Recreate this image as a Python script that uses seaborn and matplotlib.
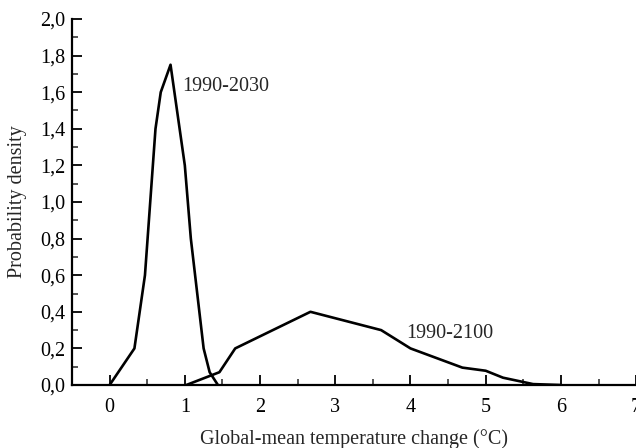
import matplotlib
matplotlib.use("Agg")
import matplotlib.pyplot as plt
import seaborn as sns
import pandas as pd
from matplotlib.ticker import MultipleLocator, FixedLocator

# ---- data ----
x_2030 = [0.0, 0.33, 0.47, 0.61, 0.68, 0.81, 1.0, 1.08, 1.25, 1.33, 1.44]
y_2030 = [0.0, 0.20, 0.60, 1.40, 1.60, 1.75, 1.20, 0.80, 0.20, 0.07, 0.0]

x_2100 = [1.02, 1.46, 1.67, 2.67, 3.61, 4.0, 4.69, 5.0, 5.23, 5.63, 6.0]
y_2100 = [0.0, 0.07, 0.20, 0.40, 0.30, 0.20, 0.095, 0.078, 0.04, 0.005, 0.0]

series_names = ["1990-2030", "1990-2100"]
x_ticks = [0, 1, 2, 3, 4, 5, 6, 7]
x_ticklabels = ["0", "1", "2", "3", "4", "5", "6", "7"]
y_ticks = [0.0, 0.2, 0.4, 0.6, 0.8, 1.0, 1.2, 1.4, 1.6, 1.8, 2.0]
y_ticklabels = ["0,0", "0,2", "0,4", "0,6", "0,8", "1,0", "1,2", "1,4", "1,6", "1,8", "2,0"]

df = pd.concat([
    pd.DataFrame({"x": x_2030, "y": y_2030, "period": series_names[0]}),
    pd.DataFrame({"x": x_2100, "y": y_2100, "period": series_names[1]}),
])

sns.set_style("ticks")
plt.rcParams["font.family"] = ["Liberation Serif", "DejaVu Serif"]

fig = plt.figure(figsize=(6.36, 4.48), dpi=100)
ax = fig.add_axes([0.1132, 0.1406, 0.887, 0.817])

sns.lineplot(data=df, x="x", y="y", hue="period", units="period", estimator=None,
             sort=False, palette={series_names[0]: "black", series_names[1]: "black"},
             linewidth=1.9, legend=False, ax=ax)

ax.set_xlim(-0.5, 7.0)
ax.set_ylim(0.0, 2.0)

ax.xaxis.set_major_locator(FixedLocator(x_ticks))
ax.set_xticklabels(x_ticklabels)
ax.xaxis.set_minor_locator(MultipleLocator(0.5))
ax.yaxis.set_major_locator(FixedLocator(y_ticks))
ax.set_yticklabels(y_ticklabels)
ax.yaxis.set_minor_locator(MultipleLocator(0.1))

ax.tick_params(axis="both", which="major", direction="in", length=7, width=1.3,
               labelsize=14.5, colors="black")
ax.tick_params(axis="both", which="minor", direction="in", length=4, width=1.1)
ax.tick_params(axis="x", which="major", pad=9)
ax.tick_params(axis="y", which="major", pad=5)

for side in ["top", "right"]:
    ax.spines[side].set_visible(False)
for side in ["left", "bottom"]:
    ax.spines[side].set_linewidth(1.6)
    ax.spines[side].set_color("black")

ax.set_xlabel("Global-mean temperature change (°C)", fontsize=14.5, labelpad=9)
ax.set_ylabel("Probability density", fontsize=14.5, labelpad=9)

ax.text(0.97, 1.63, series_names[0], fontsize=14.5, ha="left", va="center")
ax.text(3.94, 0.284, series_names[1], fontsize=14.5, ha="left", va="center")

fig.savefig("out.png", dpi=100)
